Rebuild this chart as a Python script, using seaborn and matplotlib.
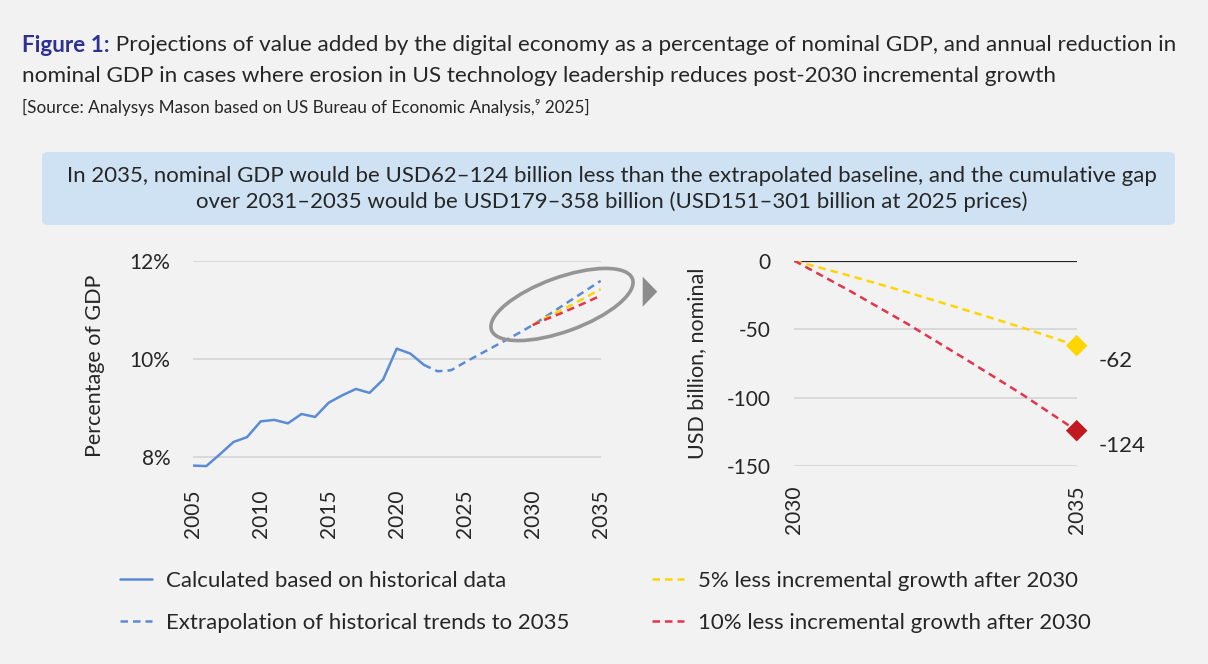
import numpy as np
import pandas as pd
import matplotlib.pyplot as plt
from matplotlib.patches import Ellipse, Polygon, FancyBboxPatch
from matplotlib.lines import Line2D
import seaborn as sns

## values
hist_years = list(range(2005, 2023))
hist_pct = [7.83, 7.82, 8.06, 8.31, 8.41, 8.73, 8.76, 8.69, 8.88, 8.82,
            9.11, 9.26, 9.39, 9.31, 9.58, 10.21, 10.11, 9.88]
trend_years = list(range(2022, 2036))
trend_pct = [9.88, 9.75, 9.77, 9.93, 10.08, 10.23, 10.38, 10.53, 10.69,
             10.87, 11.05, 11.23, 11.41, 11.59]
scen_years = list(range(2030, 2036))
less5_pct = [10.69, 10.84, 10.98, 11.12, 11.27, 11.42]
less10_pct = [10.69, 10.81, 10.92, 11.04, 11.16, 11.29]
gap_5 = [0, -11.2, -23.0, -35.5, -48.3, -62]
gap_10 = [0, -22.4, -46.0, -71.0, -96.6, -124]

left_xticks = [2005, 2010, 2015, 2020, 2025, 2030, 2035]
left_yticks = [8, 10, 12]
right_xticks = [2030, 2035]
right_yticks = [0, -50, -100, -150]

legend_labels = ["Calculated based on historical data",
                 "Extrapolation of historical trends to 2035",
                 "5% less incremental growth after 2030",
                 "10% less incremental growth after 2030"]

BG = "#f2f2f2"
TXT = "#262626"
BLUE = "#5b8bd4"
YELLOW = "#ffd500"
RED = "#e3344c"
DARKRED = "#c0191f"
GRID = "#d4d4d4"
DASH = (0, (3, 2))

sns.set_theme(style="white", rc={"figure.facecolor": BG, "axes.facecolor": BG,
                                 "text.color": TXT, "xtick.color": TXT, "ytick.color": TXT,
                                 "axes.labelcolor": TXT, "axes.unicode_minus": False})
plt.rcParams['font.family'] = ['Lato', 'DejaVu Sans']

fig = plt.figure(figsize=(12.08, 6.64), dpi=100)

## titles
t1 = fig.text(22/1208, 1-45/664, "Figure 1:", fontsize=16.2, fontweight="bold",
              color="#2e3192", va="center", ha="left")
fig.add_artist(plt.Annotation(" Projections of value added by the digital economy as a percentage "
                              "of nominal GDP, and annual reduction in",
                              xy=(1, 0.5), xycoords=t1, va="center", ha="left",
                              fontsize=16.2, color=TXT))
fig.text(22/1208, 1-76/664, "nominal GDP in cases where erosion in US technology leadership "
         "reduces post-2030 incremental growth", fontsize=16.2, va="center", ha="left")
fig.text(22/1208, 1-107/664, "[Source: Analysys Mason based on US Bureau of Economic Analysis,\u2079 2025]",
         fontsize=12.3, va="center", ha="left")

## blue headline box
box = FancyBboxPatch((42/1208, 1-225/664), (1175-42)/1208, (225-152)/664,
                     boxstyle="round,pad=0,rounding_size=0.006", transform=fig.transFigure,
                     facecolor="#cfe2f3", edgecolor="none")
fig.patches.append(box)
fig.text(612/1208, 1-189/664, "In 2035, nominal GDP would be USD62\u2013124 billion less than the extrapolated "
         "baseline, and the cumulative gap\nover 2031\u20132035 would be USD179\u2013358 billion "
         "(USD151\u2013301 billion at 2025 prices)", fontsize=16, ha="center", va="center",
         linespacing=1.35)

## left chart
ax1 = fig.add_axes([192.7/1208, 1-470/664, 408/1208, (470-260.7)/664])
hist = pd.DataFrame({"year": hist_years, "pct": hist_pct})
trend = pd.DataFrame({"year": trend_years, "pct": trend_pct})
scen = pd.DataFrame({"year": scen_years, "less5": less5_pct, "less10": less10_pct})
sns.lineplot(data=trend, x="year", y="pct", ax=ax1, color=BLUE, linewidth=1.8, linestyle=DASH)
sns.lineplot(data=scen, x="year", y="less5", ax=ax1, color=YELLOW, linewidth=1.8, linestyle=DASH)
sns.lineplot(data=scen, x="year", y="less10", ax=ax1, color=RED, linewidth=1.8, linestyle=DASH)
sns.lineplot(data=hist, x="year", y="pct", ax=ax1, color=BLUE, linewidth=1.8)
ax1.set_xlim(2005, 2035)
ax1.set_ylim(7.74, 12.0)
ax1.set_xticks(left_xticks)
ax1.set_xticklabels([str(y) for y in left_xticks], rotation=90)
ax1.set_yticks(left_yticks)
ax1.set_yticklabels([f"{v}%" for v in left_yticks])
ax1.grid(True, axis="y", color=GRID, linewidth=1.2)
ax1.set_axisbelow(True)
ax1.tick_params(length=0, labelsize=15)
ax1.tick_params(axis="y", pad=16)
ax1.tick_params(axis="x", pad=14)
ax1.set_xlabel("")
ax1.set_ylabel("Percentage of GDP", fontsize=15.5, labelpad=18)
sns.despine(ax=ax1, left=True, bottom=True)

## right chart
ax2 = fig.add_axes([794.3/1208, 1-466.3/664, 282.4/1208, (466.3-260.7)/664])
gap = pd.DataFrame({"year": scen_years, "g5": gap_5, "g10": gap_10})
ax2.axhline(0, color="#262626", linewidth=1.6, zorder=1)
sns.lineplot(data=gap, x="year", y="g5", ax=ax2, color=YELLOW, linewidth=1.8, linestyle=DASH, zorder=3)
sns.lineplot(data=gap, x="year", y="g10", ax=ax2, color=RED, linewidth=1.8, linestyle=DASH, zorder=3)
end = gap.iloc[[-1]]
sns.scatterplot(data=end, x="year", y="g5", ax=ax2, marker="D", s=120, color=YELLOW,
                edgecolor="none", zorder=4, clip_on=False)
sns.scatterplot(data=end, x="year", y="g10", ax=ax2, marker="D", s=120, color=DARKRED,
                edgecolor="none", zorder=4, clip_on=False)
for col in ["g5", "g10"]:
    v = gap[col].iloc[-1]
    ax2.annotate(f"{v:g}", xy=(scen_years[-1], v), xytext=(16, -11), textcoords="offset points",
                 fontsize=16, ha="left", va="center")
ax2.set_xlim(2030, 2035)
ax2.set_ylim(-150, 0)
ax2.set_xticks(right_xticks)
ax2.set_xticklabels([str(y) for y in right_xticks], rotation=90)
ax2.set_yticks(right_yticks)
ax2.grid(True, axis="y", color=GRID, linewidth=1.2)
ax2.set_axisbelow(True)
ax2.tick_params(length=0, labelsize=15)
ax2.tick_params(axis="y", pad=17)
ax2.tick_params(axis="x", pad=14)
ax2.set_xlabel("")
ax2.set_ylabel("USD billion, nominal", fontsize=15.5, labelpad=14)
sns.despine(ax=ax2, left=True, bottom=True)

## ellipse round the scenario lines and the arrow head
ring = Ellipse((5.62, (664-304.5)/100), 1.50, 0.54, angle=20, transform=fig.dpi_scale_trans,
               fill=False, edgecolor="#959595", linewidth=2.6)
fig.patches.append(ring)
tri = Polygon([[6.427, (664-276.7)/100], [6.427, (664-306.7)/100], [6.573, (664-291.7)/100]],
              closed=True, transform=fig.dpi_scale_trans, facecolor="#8c8c8c", edgecolor="none")
fig.patches.append(tri)

## legend
handles = [Line2D([], [], color=BLUE, linewidth=1.8),
           Line2D([], [], color=BLUE, linewidth=1.8, linestyle=DASH),
           Line2D([], [], color=YELLOW, linewidth=1.8, linestyle=DASH),
           Line2D([], [], color=RED, linewidth=1.8, linestyle=DASH)]
fig.legend(handles, legend_labels, ncol=2, loc="upper left", bbox_to_anchor=(100/1208, 1-551/664),
           frameon=False, fontsize=16, handlelength=1.45, handletextpad=0.6,
           columnspacing=3.75, labelspacing=1.0)

fig.savefig("out.png", dpi=100, facecolor=BG)
